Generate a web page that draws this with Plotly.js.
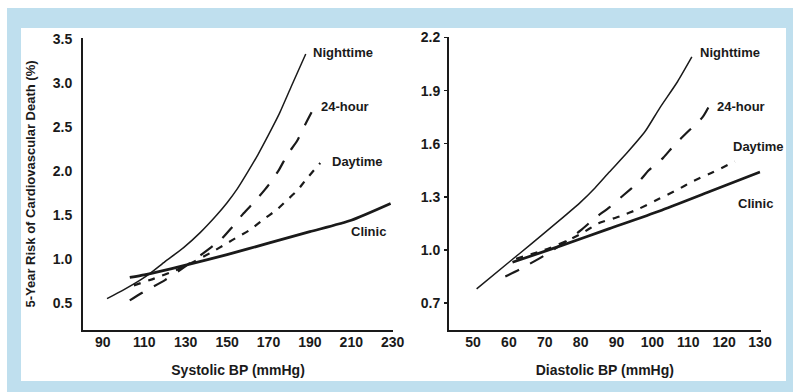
<!DOCTYPE html>
<html>
<head>
<meta charset="utf-8">
<script src="https://cdn.plot.ly/plotly-3.0.1.min.js"></script>
<style>
  html, body { margin: 0; padding: 0; background: #ffffff; }
  #chart { width: 793px; height: 392px; }
</style>
</head>
<body>
<div id="chart"></div>
<script>
// ---------- Systolic panel (left) ----------
const sysNightX = [92, 100, 108, 113, 120, 129, 137, 145, 150, 155, 160, 165, 170, 175, 181, 188];
const sysNightY = [0.55, 0.65, 0.76, 0.84, 0.97, 1.13, 1.30, 1.50, 1.64, 1.80, 1.99, 2.19, 2.41, 2.64, 2.96, 3.33];

const sys24X = [103, 110, 120, 130, 137, 147, 152, 158, 164, 170, 175, 179, 184, 188, 192];
const sys24Y = [0.53, 0.63, 0.76, 0.92, 1.04, 1.22, 1.35, 1.52, 1.67, 1.84, 2.01, 2.18, 2.35, 2.54, 2.72];

const sysDayX = [105, 115, 125, 134, 142, 150, 155, 161, 167, 174, 179, 184, 188, 195];
const sysDayY = [0.70, 0.78, 0.87, 0.97, 1.07, 1.18, 1.25, 1.33, 1.44, 1.56, 1.67, 1.78, 1.90, 2.09];

const sysClinicX = [103, 110, 116, 130, 150, 170, 190, 210, 229];
const sysClinicY = [0.79, 0.82, 0.85, 0.93, 1.05, 1.18, 1.31, 1.44, 1.63];

// ---------- Diastolic panel (right) ----------
const diaNightX = [51, 60, 66, 74, 80, 84, 88, 93, 98, 102, 107, 111];
const diaNightY = [0.78, 0.93, 1.03, 1.165, 1.27, 1.35, 1.44, 1.55, 1.67, 1.80, 1.95, 2.09];

const dia24X = [59, 63, 70, 76, 80, 84, 88, 92, 96, 99, 103, 106, 110, 114, 116];
const dia24Y = [0.85, 0.89, 0.97, 1.05, 1.11, 1.18, 1.24, 1.31, 1.38, 1.45, 1.52, 1.59, 1.67, 1.75, 1.82];

const diaDayX = [62, 70, 76, 80, 85, 91, 96, 102, 107, 111, 117, 123];
const diaDayY = [0.95, 1.00, 1.05, 1.09, 1.15, 1.19, 1.23, 1.29, 1.34, 1.385, 1.44, 1.50];

const diaClinicX = [61, 74, 88, 102, 116, 130];
const diaClinicY = [0.93, 1.02, 1.12, 1.22, 1.33, 1.44];

// ---------- Text ----------
const seriesNames = ["Nighttime", "24-hour", "Daytime", "Clinic"];
const xTitleLeft = "Systolic BP (mmHg)";
const xTitleRight = "Diastolic BP (mmHg)";
const yTitleLeft = "5-Year Risk of Cardiovascular Death (%)";

const FONT = "'Liberation Sans Narrow', 'Arial Narrow', 'Liberation Sans', Arial, sans-serif";
const INK = "#1a1a1a";
const W = 793, H = 392;
const px = v => v / W;
const py = v => 1 - v / H;

const styles = {
  "Nighttime": { width: 1.5, dash: "solid" },
  "24-hour":   { width: 2.2, dash: "15px,13px" },
  "Daytime":   { width: 2.2, dash: "7px,8px" },
  "Clinic":    { width: 2.8, dash: "solid" }
};

function tr(name, x, y, xa, ya) {
  return {
    type: "scatter", mode: "lines", name: name, x: x, y: y,
    xaxis: xa, yaxis: ya, showlegend: false, hoverinfo: "skip",
    line: { color: INK, width: styles[name].width, dash: styles[name].dash, shape: "spline", smoothing: 0.6 }
  };
}

const data = [
  tr("Nighttime", sysNightX, sysNightY, "x", "y"),
  tr("24-hour", sys24X, sys24Y, "x", "y"),
  tr("Daytime", sysDayX, sysDayY, "x", "y"),
  tr("Clinic", sysClinicX, sysClinicY, "x", "y"),
  tr("Nighttime", diaNightX, diaNightY, "x2", "y2"),
  tr("24-hour", dia24X, dia24Y, "x2", "y2"),
  tr("Daytime", diaDayX, diaDayY, "x2", "y2"),
  tr("Clinic", diaClinicX, diaClinicY, "x2", "y2")
];

const tickFont = { family: FONT, size: 14, color: INK, weight: "bold" };
const titleFont = { family: FONT, size: 14, color: INK, weight: "bold" };

const baseX = {
  showline: true, linecolor: INK, linewidth: 2, showgrid: false, zeroline: false,
  ticks: "", tickfont: tickFont, ticklabelstandoff: -2, fixedrange: true
};
const baseY = {
  showline: true, linecolor: INK, linewidth: 2, showgrid: false, zeroline: false,
  tickfont: tickFont, tickformat: ".1f", fixedrange: true
};

const layout = {
  width: W, height: H,
  margin: { l: 0, r: 0, t: 0, b: 0, pad: 0 },
  paper_bgcolor: "#ffffff", plot_bgcolor: "rgba(0,0,0,0)",
  showlegend: false,
  xaxis: Object.assign({}, baseX, {
    domain: [px(83), px(393.1)], range: [80.4, 230.2],
    tick0: 90, dtick: 20, anchor: "y",
    title: { text: xTitleLeft, font: titleFont, standoff: 16 }
  }),
  yaxis: Object.assign({}, baseY, {
    domain: [py(330), py(38)], range: [0.1932, 3.5114],
    tick0: 0.5, dtick: 0.5, anchor: "x", ticks: "", ticklabelstandoff: 6,
    title: { text: yTitleLeft, font: { family: FONT, size: 13, color: INK, weight: "bold" }, standoff: 14 }
  }),
  xaxis2: Object.assign({}, baseX, {
    domain: [px(449), px(760.7)], range: [43.3, 130.2],
    tick0: 50, dtick: 10, anchor: "y2",
    title: { text: xTitleRight, font: titleFont, standoff: 16 }
  }),
  yaxis2: Object.assign({}, baseY, {
    domain: [py(330), py(37)], range: [0.5475, 2.2028],
    tick0: 0.7, dtick: 0.3, anchor: "x2",
    ticks: "outside", ticklen: 3, tickwidth: 1.5, tickcolor: INK, ticklabelstandoff: 1
  }),
  shapes: [
    { type: "rect", xref: "paper", yref: "paper", x0: px(7), x1: 1, y0: 0, y1: py(8),
      fillcolor: "#bfdfee", line: { width: 0 }, layer: "below" },
    { type: "rect", xref: "paper", yref: "paper", x0: px(21), x1: px(786), y0: py(381), y1: py(28),
      fillcolor: "#ffffff", line: { width: 0 }, layer: "below" }
  ],
  annotations: []
};

const labelPos = [
  // left panel
  [343, 52], [345, 106], [357, 161], [368, 231],
  // right panel
  [730, 52], [741, 106], [758, 146], [755, 203]
];
labelPos.forEach((p, i) => {
  layout.annotations.push({
    xref: "paper", yref: "paper", x: px(p[0]), y: py(p[1]),
    xanchor: "center", yanchor: "middle", showarrow: false,
    text: seriesNames[i % 4],
    font: { family: FONT, size: 13, color: INK, weight: "bold" }
  });
});

Plotly.newPlot("chart", data, layout, { displayModeBar: false, staticPlot: true });
</script>
</body>
</html>
